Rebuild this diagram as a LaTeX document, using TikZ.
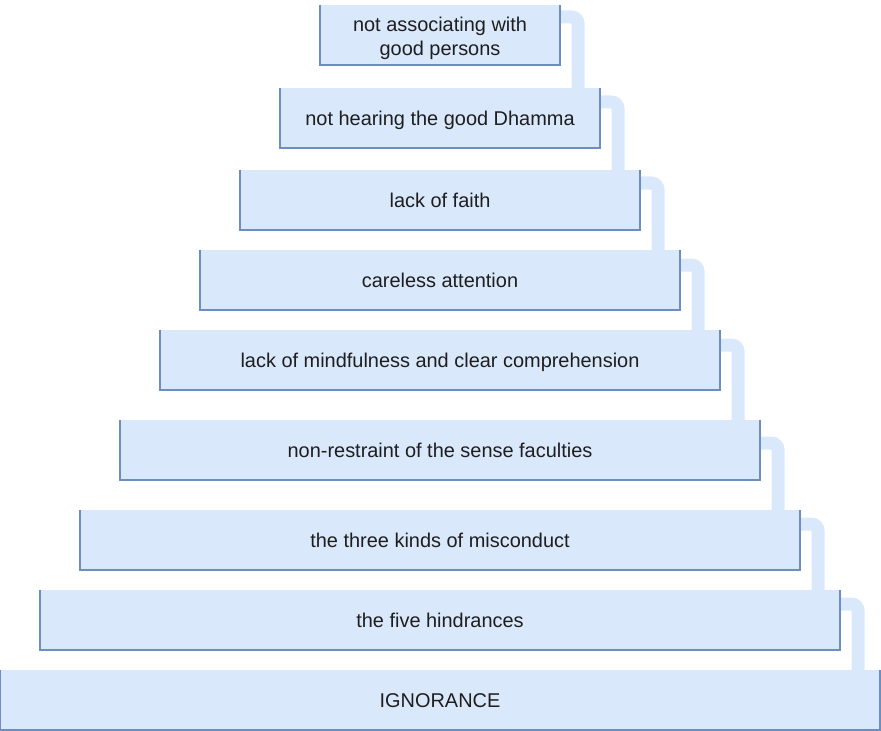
\documentclass[tikz,border=0pt]{standalone}
\usepackage{fontspec}
\setmainfont{Liberation Sans}
\usetikzlibrary{calc,backgrounds}
\definecolor{stepfill}{RGB}{218,232,252}
\definecolor{stepline}{RGB}{108,142,191}
\definecolor{steptext}{RGB}{30,30,30}

\begin{document}
\begin{tikzpicture}[x=0.75pt,y=-0.75pt,
  stepbox/.style={fill=stepfill,draw=none,inner sep=0,outer sep=0,minimum height=45pt,
    text height=12.5pt,text depth=1pt,
    text=steptext,align=center,font=\fontsize{14.95}{18.2}\selectfont},
  link/.style={draw=stepfill,line width=9.75pt,rounded corners=5pt}]
\useasboundingbox (0,0) rectangle (881,731);
\node[stepbox,minimum width=180pt,text height=32.5pt] (assoc) at (440,35) {not associating with\\good persons};
\node[stepbox,minimum width=240pt] (hearing) at (440,118) {not hearing the good Dhamma};
\node[stepbox,minimum width=300pt] (faith) at (440,200) {lack of faith};
\node[stepbox,minimum width=360pt] (attention) at (440,280) {careless attention};
\node[stepbox,minimum width=420pt] (mindful) at (440,360) {lack of mindfulness and clear comprehension};
\node[stepbox,minimum width=480pt] (restraint) at (440,450) {non-restraint of the sense faculties};
\node[stepbox,minimum width=540pt] (misconduct) at (440,540) {the three kinds of misconduct};
\node[stepbox,minimum width=600pt] (hindrances) at (440,620) {the five hindrances};
\node[stepbox,minimum width=660pt] (ignorance) at (440,700) {IGNORANCE};
% left, bottom and right edges only
\foreach \b in {assoc,hearing,faith,attention,mindful,restraint,misconduct,hindrances,ignorance}
  \draw[stepline,line width=0.9pt] (\b.north west) -- (\b.south west) -- (\b.south east) -- (\b.north east);
% connectors behind the boxes
\begin{pgfonlayer}{background}
\draw[link] ($(assoc.north east)+(0,12)$) -| ($(assoc.east |- hearing.north)+(18,0)$);
\draw[link] ($(hearing.north east)+(0,14)$) -| ($(hearing.east |- faith.north)+(18,0)$);
\draw[link] ($(faith.north east)+(0,13)$) -| ($(faith.east |- attention.north)+(18,0)$);
\draw[link] ($(attention.north east)+(0,15)$) -| ($(attention.east |- mindful.north)+(18,0)$);
\draw[link] ($(mindful.north east)+(0,15)$) -| ($(mindful.east |- restraint.north)+(18,0)$);
\draw[link] ($(restraint.north east)+(0,23)$) -| ($(restraint.east |- misconduct.north)+(18,0)$);
\draw[link] ($(misconduct.north east)+(0,14)$) -| ($(misconduct.east |- hindrances.north)+(18,0)$);
\draw[link] ($(hindrances.north east)+(0,14)$) -| ($(hindrances.east |- ignorance.north)+(18,0)$);
\end{pgfonlayer}
\end{tikzpicture}
\end{document}
